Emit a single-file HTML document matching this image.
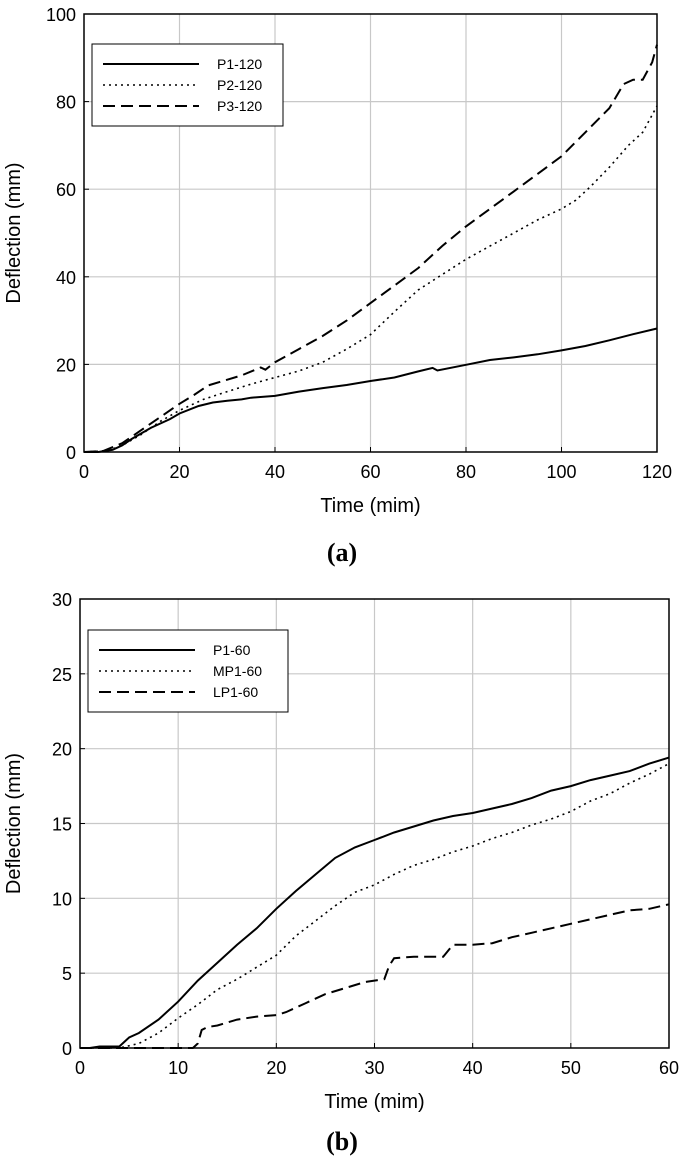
<!DOCTYPE html>
<html><head><meta charset="utf-8"><style>
html,body{margin:0;padding:0;background:#fff;}
svg text{font-family:"Liberation Sans",Arial,sans-serif;fill:#000;}
</style></head><body>
<svg id="svg" width="685" height="1159" xmlns="http://www.w3.org/2000/svg">
<text x="342" y="561" text-anchor="middle" style="font-family:'Liberation Serif',serif;font-weight:bold;font-size:26px">(a)</text>
<text x="342" y="1150" text-anchor="middle" style="font-family:'Liberation Serif',serif;font-weight:bold;font-size:26px">(b)</text>
</svg>
<script>
const aCats=["P1-120","P2-120","P3-120"];
const aP1T=[0,3,6,8,10,14,18,20,24,27,30,33,35,40,45,50,55,60,65,70,73,74,80,85,90,95,100,105,110,115,120];
const aP1V=[0,0,0.5,1.5,3,5.5,7.5,8.8,10.5,11.3,11.7,12,12.4,12.8,13.8,14.6,15.3,16.2,17,18.4,19.2,18.6,19.9,21,21.6,22.3,23.2,24.2,25.5,26.9,28.2];
const aP2T=[0,5,8,12,16,20,25,30,35,40,45,50,55,60,65,70,75,80,85,90,95,100,103,106,110,114,117,120];
const aP2V=[0,0.3,1.5,4,7,9.5,12,13.8,15.5,17,18.5,20.5,23.5,26.8,32,37,40.5,44,47,50,53,55.5,57.5,60.5,65,70,73,79];
const aP3T=[0,4,8,12,16,20,23,26,30,33,37,38,40,45,50,55,60,65,70,75,80,85,90,95,100,105,110,113,115,117,119,120];
const aP3V=[0,0.2,2,5,8,11,13,15.2,16.5,17.5,19.3,18.8,20.5,23.5,26.5,30,34,38,42,47,51.5,55.5,59.5,63.5,67.5,73,78.5,84,85,85,89,93];
const aXTicks=[0,20,40,60,80,100,120];
const aYTicks=[0,20,40,60,80,100];
const bCats=["P1-60","MP1-60","LP1-60"];
const bP1T=[0,1,2,4,5,6,8,10,12,14,16,18,20,22,24,26,28,30,32,34,36,38,40,42,44,46,48,50,52,54,56,58,60];
const bP1V=[0,0,0.1,0.1,0.7,1,1.9,3.1,4.5,5.7,6.9,8,9.3,10.5,11.6,12.7,13.4,13.9,14.4,14.8,15.2,15.5,15.7,16,16.3,16.7,17.2,17.5,17.9,18.2,18.5,19,19.4];
const bMPT=[0,4,6,8,10,12,14,16,18,20,22,24,26,28,30,32,34,36,38,40,42,44,46,48,50,52,54,56,58,60];
const bMPV=[0,0,0.3,1,2,2.9,3.9,4.6,5.4,6.2,7.5,8.5,9.5,10.4,10.9,11.6,12.2,12.6,13.1,13.5,14,14.4,14.9,15.3,15.8,16.5,17,17.7,18.3,19];
const bLPT=[0,11.5,12,12.4,13,14,16,18,20,21,23,25,27,29,31,31.5,32,34,36,37,38,40,42,44,46,48,50,52,54,56,58,60];
const bLPV=[0,0,0.3,1.2,1.4,1.5,1.9,2.1,2.2,2.4,3,3.6,4,4.4,4.6,5.5,6,6.1,6.1,6.1,6.9,6.9,7,7.4,7.7,8,8.3,8.6,8.9,9.2,9.3,9.6];
const bXTicks=[0,10,20,30,40,50,60];
const bYTicks=[0,5,10,15,20,25,30];

const NS="http://www.w3.org/2000/svg";
const svg=document.getElementById('svg');
function mk(tag,attrs,parent){const e=document.createElementNS(NS,tag);for(const k in attrs)e.setAttribute(k,attrs[k]);(parent||svg).appendChild(e);return e;}
const dashes=["none","2,4","12,6"];

function chart(p,series,cats,xt,yt,id){
  const g=mk('g',{});
  
  
  const sx=v=>p.x0+(v-p.xmin)/(p.xmax-p.xmin)*(p.x1-p.x0);
  const sy=v=>p.y0-(v-p.ymin)/(p.ymax-p.ymin)*(p.y0-p.y1);
  xt.forEach(t=>{
    if(t!==xt[0]&&t!==xt[xt.length-1]){const l=mk('line',{x1:sx(t),x2:sx(t),y1:p.y1,y2:p.y0,stroke:'#c8c8c8','stroke-width':1.2},g);
    
    }
    mk('line',{x1:sx(t),x2:sx(t),y1:p.y0,y2:p.y0-5,stroke:'#000','stroke-width':1},g);
    const tx=mk('text',{x:sx(t),y:p.y0+26,'text-anchor':'middle','font-size':18},g);tx.textContent=t;
    
    
  });
  yt.forEach(t=>{
    if(t!==yt[0]&&t!==yt[yt.length-1]){const l=mk('line',{x1:p.x0,x2:p.x1,y1:sy(t),y2:sy(t),stroke:'#c8c8c8','stroke-width':1.2},g);
    
    }
    mk('line',{x1:p.x0,x2:p.x0+5,y1:sy(t),y2:sy(t),stroke:'#000','stroke-width':1},g);
    const tx=mk('text',{x:p.x0-8,y:sy(t)+7,'text-anchor':'end','font-size':18},g);tx.textContent=t;
    
    
  });
  const fr=mk('rect',{x:p.x0,y:p.y1,width:p.x1-p.x0,height:p.y0-p.y1,fill:'none',stroke:'#000','stroke-width':1.5},g);
  
  
  series.forEach((s,i)=>{
    const d=s[0].map((t,j)=>(j?'L':'M')+sx(t).toFixed(1)+','+sy(s[1][j]).toFixed(1)).join('');
    const pa=mk('path',{d:d,fill:'none',stroke:'#000','stroke-width':i==1?1.6:2,'stroke-dasharray':dashes[i]},g);
    
    
  });
  const lg=mk('g',{},g);
  
  
  mk('rect',{x:p.lx,y:p.ly,width:p.lw,height:82,fill:'#fff',stroke:'#000','stroke-width':1},lg);
  cats.forEach((c,i)=>{
    const y=p.ly+20+i*21;
    mk('line',{x1:p.lx+11,x2:p.lx+107,y1:y,y2:y,stroke:'#000','stroke-width':i==1?1.6:2,'stroke-dasharray':dashes[i]},lg);
    const tx=mk('text',{x:p.lx+125,y:y+5,'font-size':14},lg);tx.textContent=c;
    
    
  });
  const xl=mk('text',{x:(p.x0+p.x1)/2,y:p.y0+60,'text-anchor':'middle','font-size':20},g);xl.textContent='Time (mim)';
  
  
  const cy=(p.y0+p.y1)/2;
  const yl=mk('text',{x:20,y:cy,'text-anchor':'middle','font-size':20,transform:'rotate(-90 20 '+cy+')'},g);yl.textContent='Deflection (mm)';
  
  
}
chart({x0:84,x1:657,y0:452,y1:14,xmin:0,xmax:120,ymin:0,ymax:100,lx:92,ly:44,lw:191},
  [[aP1T,aP1V],[aP2T,aP2V],[aP3T,aP3V]],aCats,aXTicks,aYTicks,'chart-a');
chart({x0:80,x1:669,y0:1048,y1:599,xmin:0,xmax:60,ymin:0,ymax:30,lx:88,ly:630,lw:200},
  [[bP1T,bP1V],[bMPT,bMPV],[bLPT,bLPV]],bCats,bXTicks,bYTicks,'chart-b');
</script>
</body></html>
